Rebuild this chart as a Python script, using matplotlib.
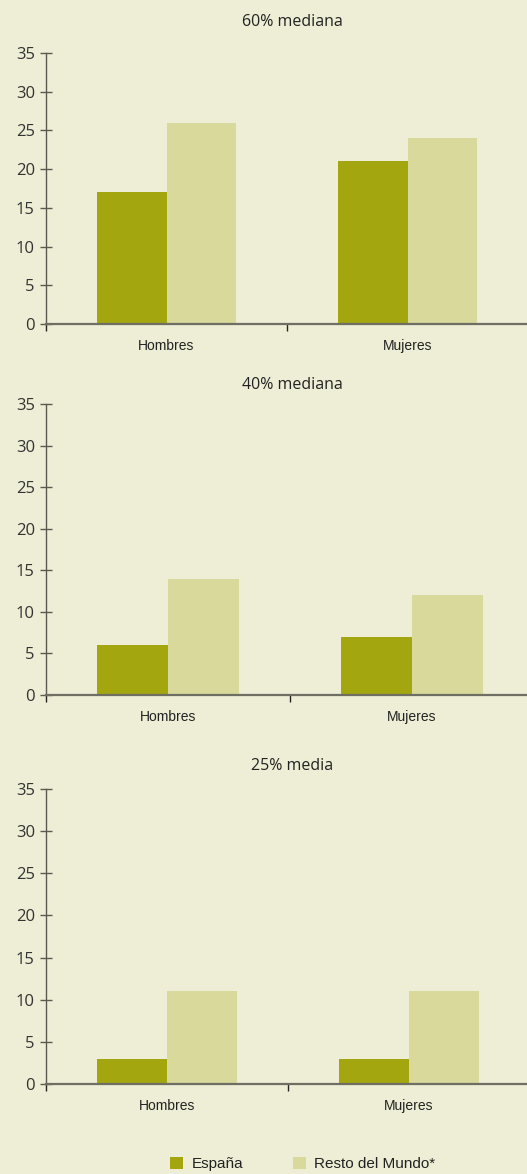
import matplotlib.pyplot as plt
from matplotlib.patches import Patch
import numpy as np

# Data
grupos = ['Hombres', 'Mujeres']
titulos = ['60% mediana', '40% mediana', '25% media']
espana = [[17, 21], [6, 7], [3, 3]]
resto = [[26, 24], [14, 12], [11, 11]]
series = ['España', 'Resto del Mundo*']

BG = '#EEEED6'
C_ESP = '#A3A60F'
C_RES = '#D8D99B'
AXC = '#5a5a50'

fig = plt.figure(figsize=(5.27, 11.74), dpi=100, facecolor=BG)

# axes boxes in pixels: left, bottom (from top), top, right, title y
boxes = [(46, 324, 53, 528, 22), (46, 695, 404, 534, 385), (46, 1084, 789, 530, 766)]
H = 1174.0
W = 527.0

x = np.arange(len(grupos)) + 0.5
w = 0.29

for i, (l, b, t, r, ty) in enumerate(boxes):
    ax = fig.add_axes([l / W, 1 - b / H, (r - l) / W, (b - t) / H])
    ax.set_facecolor(BG)
    ax.patch.set_alpha(0)
    ax.bar(x - w / 2, espana[i], w, color=C_ESP, linewidth=0, zorder=2)
    ax.bar(x + w / 2, resto[i], w, color=C_RES, linewidth=0, zorder=2)
    ax.set_xlim(0, 2)
    ax.set_ylim(0, 35)
    ax.set_yticks(range(0, 36, 5))
    ax.tick_params(axis='y', direction='inout', length=8, width=1, color=AXC,
                   labelsize=12, labelcolor='#333333', pad=4)
    for lab in ax.get_yticklabels():
        lab.set_fontfamily('Open Sans')
    ax.set_xticks([0, 1, 2])
    ax.set_xticklabels([])
    ax.tick_params(axis='x', which='major', direction='out', length=5, width=1, color='#222222')
    ax.set_xticks(x, minor=True)
    ax.set_xticklabels(grupos, minor=True, fontsize=10, color='#222222',
                       fontfamily='Liberation Sans')
    ax.tick_params(axis='x', which='minor', length=0, pad=11)
    for s in ['top', 'right']:
        ax.spines[s].set_visible(False)
    ax.spines['left'].set_color(AXC)
    ax.spines['left'].set_linewidth(1)
    ax.spines['bottom'].set_color('#6e6e62')
    ax.spines['bottom'].set_linewidth(1.6)
    ax.spines['bottom'].set_zorder(3)
    fig.text(292 / W, 1 - ty / H, titulos[i], ha='center', va='center',
             fontsize=11.5, color='#222222', fontfamily='Open Sans')

handles = [Patch(facecolor=C_ESP, edgecolor='none'), Patch(facecolor=C_RES, edgecolor='none')]
fig.legend(handles, series, loc='center', bbox_to_anchor=(303 / W, 1 - 1164 / H), ncol=2,
           frameon=False, handlelength=0.85, handleheight=0.85, handletextpad=0.57,
           columnspacing=3.2, prop={'family': 'Liberation Sans', 'size': 11},
           labelcolor='#222222')

fig.savefig('out.png', dpi=100, facecolor=BG)
